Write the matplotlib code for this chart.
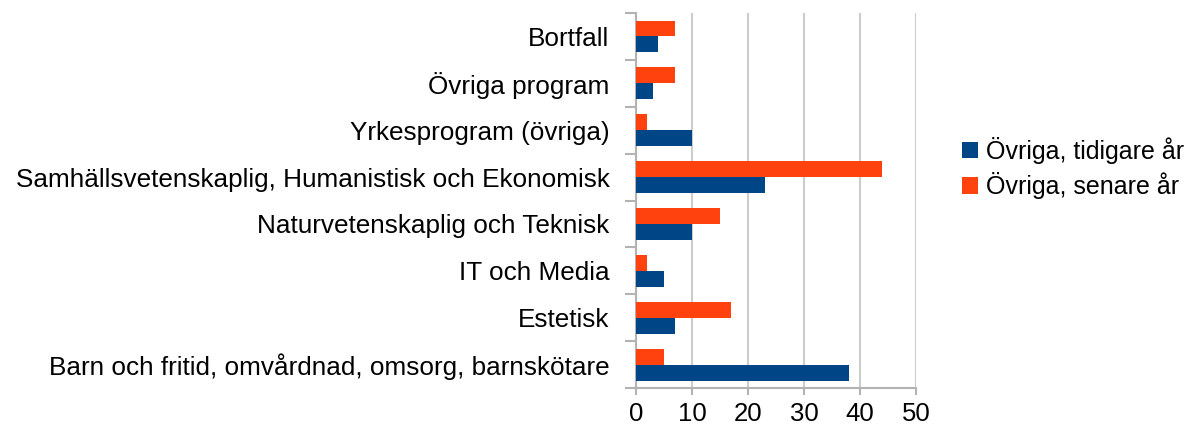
import matplotlib
matplotlib.use("Agg")
import matplotlib.pyplot as plt
import numpy as np

categories = [
    "Barn och fritid, omvårdnad, omsorg, barnskötare",
    "Estetisk",
    "IT och Media",
    "Naturvetenskaplig och Teknisk",
    "Samhällsvetenskaplig, Humanistisk och Ekonomisk",
    "Yrkesprogram (övriga)",
    "Övriga program",
    "Bortfall",
]
tidigare = [38, 7, 5, 10, 23, 10, 3, 4]
senare = [5, 17, 2, 15, 44, 2, 7, 7]
series_names = ["Övriga, tidigare år", "Övriga, senare år"]
xticks = [0, 10, 20, 30, 40, 50]

plt.rcParams['font.family'] = ['Liberation Sans', 'DejaVu Sans']

fig = plt.figure(figsize=(11.94, 4.34), dpi=100)
ax = fig.add_axes([636/1194, 1 - 388/434, 280/1194, 375/434])

y = np.arange(len(categories))
h = 0.34
ax.barh(y - h/2, tidigare, height=h, color="#004586", label=series_names[0], zorder=3)
ax.barh(y + h/2, senare, height=h, color="#ff420e", label=series_names[1], zorder=3)

ax.set_xlim(0, 50)
ax.set_ylim(-0.5, len(categories) - 0.5)
ax.set_xticks(xticks)
ax.set_xticklabels([str(t) for t in xticks], fontsize=18.5)
ax.set_yticks(y)
ax.set_yticklabels(categories, fontsize=18.8)
ax.tick_params(axis='y', length=0, pad=19)
ax.set_yticks(np.arange(-0.5, len(categories)), minor=True)
ax.tick_params(axis='y', which='minor', length=8, color="#b3b3b3", width=1.5)
ax.tick_params(axis='x', length=5, color="#b3b3b3", width=1.5, pad=5)
ax.grid(axis='x', color="#cccccc", linewidth=1.5, zorder=0)
for s in ax.spines.values():
    s.set_color("#b3b3b3")
    s.set_linewidth(1.5)
ax.spines['top'].set_visible(False)
ax.spines['right'].set_visible(False)

handles, labels = ax.get_legend_handles_labels()
fig.legend(handles, labels, loc='center left', bbox_to_anchor=(954/1194, 1 - 168/434),
           frameon=False, fontsize=18, handlelength=0.65, handleheight=0.65,
           handletextpad=0.35, labelspacing=0.35, borderaxespad=0, borderpad=0.3)

fig.savefig("out.png", dpi=100)
